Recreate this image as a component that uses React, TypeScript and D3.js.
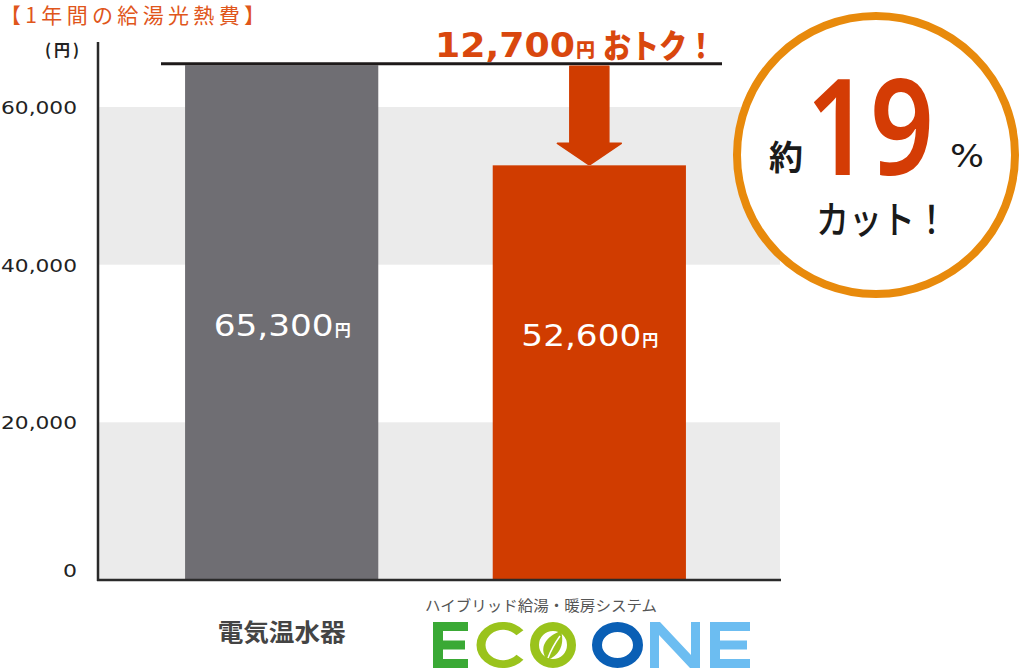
import React from "react";
import * as d3 from "d3";

const categories = ["電気温水器", "ECO ONE"];
const values = [65300, 52600];
const valueLabels = ["65,300", "52,600"];
const yTicks = [0, 20000, 40000, 60000];
const tickLabels = ["0", "20,000", "40,000", "60,000"];
const bands = [
  [0, 20000],
  [40000, 60000],
];
const savingLabel = "12,700";
const percentLabel = "19";
const title = "【1年間の給湯光熱費】";
const unitLabel = "(円)";
const ecoSub = "ハイブリッド給湯・暖房システム";

const W = 1024;
const H = 669;
const JP = "'Noto Sans CJK JP', 'Noto Sans', sans-serif";
const NUM = "'DejaVu Sans', 'Noto Sans', sans-serif";
const RED = "#d03c00";
const GRAY = "#6f6e73";
const BAND = "#ebebeb";

export default function App() {
  const y = d3.scaleLinear().domain([0, 60000]).range([580, 107]);
  const x = d3
    .scaleBand<string>()
    .domain(categories)
    .range([98, 773])
    .paddingInner(0.372)
    .paddingOuter(0.283);
  const bw = x.bandwidth();
  const colors = [GRAY, RED];
  const labelBase = [31000, 29700];

  const x2 = (x(categories[1]) as number) + bw / 2;
  const topY = y(values[0]);
  const barTop2 = y(values[1]);

  const cArc = d3.arc()({
    innerRadius: 17.5,
    outerRadius: 26.5,
    startAngle: Math.PI * 0.72,
    endAngle: Math.PI * 2.28,
  }) as string;

  return (
    <svg
      width={W}
      height={H}
      viewBox={`0 0 ${W} ${H}`}
      style={{ position: "absolute", left: 0, top: 0, background: "#fff" }}
    >
      <rect x={0} y={0} width={W} height={H} fill="#fff" />
      {/* bands */}
      {bands.map((b, i) => (
        <rect
          key={i}
          x={98}
          width={682}
          y={y(b[1])}
          height={y(b[0]) - y(b[1])}
          fill={BAND}
        />
      ))}
      {/* title */}
      <text
        x={0}
        y={23}
        fontFamily={JP}
        fontSize={21}
        fill="#e0561b"
        textLength={265}
        lengthAdjust="spacing"
      >
        {title}
      </text>
      {/* unit */}
      <text
        x={45}
        y={56}
        fontFamily={JP}
        fontSize={16}
        fill="#222"
        fontWeight={700}
        textLength={34}
        lengthAdjust="spacing"
      >
        {unitLabel}
      </text>
      {/* tick labels */}
      {yTicks.map((t, i) => (
        <text
          key={t}
          x={77}
          y={y(t) + (t === 0 ? -3 : 7)}
          fontFamily={NUM}
          fontSize={18}
          fill="#222"
          textAnchor="end"
          textLength={t === 0 ? 14 : 76}
          lengthAdjust="spacingAndGlyphs"
        >
          {tickLabels[i]}
        </text>
      ))}
      {/* bars */}
      {categories.map((c, i) => (
        <rect
          key={c}
          x={x(c)}
          y={y(values[i])}
          width={bw}
          height={y(0) - y(values[i])}
          fill={colors[i]}
        />
      ))}
      {/* bar labels */}
      {categories.map((c, i) => {
        const cx = (x(c) as number) + bw / 2;
        const by = y(labelBase[i]);
        return (
          <g key={c + "l"}>
            <text
              x={cx - 68}
              y={by}
              fontFamily={NUM}
              fontSize={30}
              fill="#fff"
              textLength={120}
              lengthAdjust="spacingAndGlyphs"
            >
              {valueLabels[i]}
            </text>
            <text x={cx + 53} y={by} fontFamily={JP} fontSize={16} fill="#fff" fontWeight={700}>
              円
            </text>
          </g>
        );
      })}
      {/* axes */}
      <line x1={98} x2={98} y1={42} y2={581} stroke="#2a2a2a" strokeWidth={2.5} />
      <line x1={97} x2={781} y1={580} y2={580} stroke="#2a2a2a" strokeWidth={2.5} />
      {/* reference line */}
      <line x1={161} x2={722} y1={topY - 1.5} y2={topY - 1.5} stroke="#1e1a1a" strokeWidth={3} />
      {/* arrow */}
      <path
        d={`M${x2 - 19.5},${topY + 1} L${x2 + 19.5},${topY + 1} L${x2 + 19.5},${barTop2 - 22} L${x2 + 32},${barTop2 - 22} L${x2 + 1},${barTop2 - 1} L${x2 - 1},${barTop2 - 1} L${x2 - 32},${barTop2 - 22} L${x2 - 19.5},${barTop2 - 22} Z`}
        fill={RED}
        stroke={RED}
        strokeWidth={1.5}
        strokeLinejoin="round"
      />
      {/* savings text */}
      <text
        x={435}
        y={57}
        fontFamily={NUM}
        fontSize={34}
        fontWeight={700}
        fill="#d9470e"
        textLength={140}
        lengthAdjust="spacingAndGlyphs"
      >
        {savingLabel}
      </text>
      <text x={576} y={57} fontFamily={JP} fontSize={19} fontWeight={900} fill="#d9470e">
        円
      </text>
      <text
        x={603}
        y={58}
        fontFamily={JP}
        fontSize={33}
        fontWeight={900}
        fill="#d9470e"
        textLength={112}
        lengthAdjust="spacingAndGlyphs"
      >
        おトク！
      </text>
      {/* circle */}
      <circle cx={876} cy={155} r={139} fill="#fff" stroke="#e88a0c" strokeWidth={8} />
      <text x={769} y={170} fontFamily={JP} fontSize={34} fontWeight={700} fill="#1a1a1a">
        約
      </text>
      <text
        x={806}
        y={175}
        fontFamily={"'Noto Sans', sans-serif"}
        fontSize={134}
        fontWeight={600}
        fill="#d43c05"
        textLength={128}
        lengthAdjust="spacingAndGlyphs"
      >
        {percentLabel}
      </text>
      <text
        x={950}
        y={167}
        fontFamily={NUM}
        fontSize={32}
        fill="#1a1a1a"
        textLength={34}
        lengthAdjust="spacingAndGlyphs"
      >
        %
      </text>
      <text
        x={816}
        y={233}
        fontFamily={JP}
        fontSize={38}
        fontWeight={500}
        fill="#1a1a1a"
        textLength={132}
        lengthAdjust="spacingAndGlyphs"
      >
        カット！
      </text>
      {/* x labels */}
      <text
        x={(x(categories[0]) as number) + bw / 2}
        y={641}
        fontFamily={JP}
        fontSize={24}
        fontWeight={700}
        fill="#444"
        textAnchor="middle"
        textLength={128}
        lengthAdjust="spacingAndGlyphs"
      >
        {categories[0]}
      </text>
      <text
        x={425}
        y={611}
        fontFamily={JP}
        fontSize={15}
        fill="#555"
        textLength={232}
        lengthAdjust="spacingAndGlyphs"
      >
        {ecoSub}
      </text>
      {/* ECO ONE logo */}
      <g>
        {/* E green */}
        <rect x={433} y={622} width={10} height={46} fill="#3aa935" />
        <rect x={433} y={622} width={35} height={9} fill="#3aa935" />
        <rect x={433} y={640.5} width={32} height={9} fill="#3aa935" />
        <rect x={433} y={659} width={35} height={9} fill="#3aa935" />
        {/* C */}
        <path d={cArc} transform="translate(503,645) scale(1,0.87)" fill="#9ac31c" />
        {/* O with leaf */}
        <ellipse cx={553} cy={645} rx={18.5} ry={18.5} fill="none" stroke="#9ac31c" strokeWidth={9} />
        <path
          d="M547,660 C538,648 546,636 561,631 C565,645 559,656 547,660 Z"
          fill="#9ac31c"
        />
        <path d="M548,658 C551,650 555,643 560,636" stroke="#fff" strokeWidth={1.5} fill="none" />
        {/* O blue */}
        <ellipse cx={617.5} cy={645} rx={20.5} ry={18} fill="none" stroke="#0a5fb5" strokeWidth={10} />
        {/* N */}
        <path d="M650,668 L650,622 L660,622 L691,655 L691,622 L700,622 L700,668 L690,668 L659,635 L659,668 Z" fill="#6cbdf1" />
        {/* E blue */}
        <rect x={710} y={622} width={10} height={46} fill="#6cbdf1" />
        <rect x={710} y={622} width={40} height={9} fill="#6cbdf1" />
        <rect x={710} y={640.5} width={37} height={9} fill="#6cbdf1" />
        <rect x={710} y={659} width={40} height={9} fill="#6cbdf1" />
      </g>
    </svg>
  );
}
